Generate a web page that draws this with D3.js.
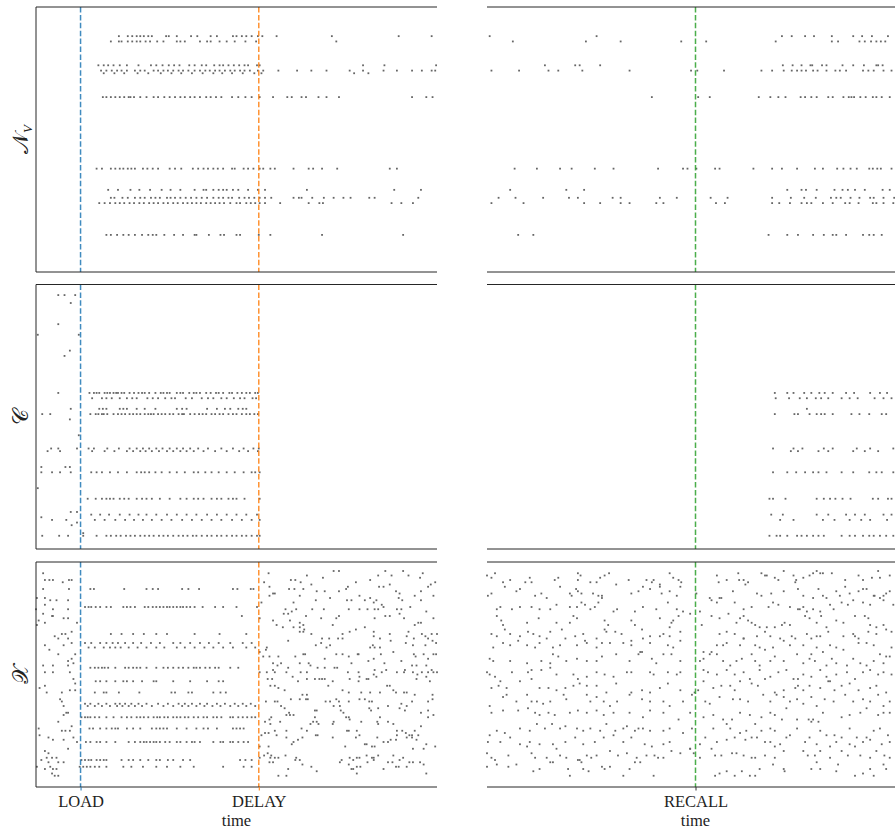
<!DOCTYPE html>
<html>
<head>
<meta charset="UTF-8">
<script src="https://d3js.org/d3.v7.min.js"></script>
<style>
  body { margin: 0; background: #fff; }
  svg text { font-family: "Liberation Serif", "DejaVu Serif", serif; fill: #222; }
</style>
</head>
<body>
<svg id="chart" width="895" height="832"></svg>
<script>
// event times (ms) on each column's time axis
const loadT = 50, delayT = 250, recallT = 234;

// ---- N_V : spike times per neuron [neuron, times]
const nvLeftRows = [
  [11, [93,103,108,113,117,121,126,130,146,149,158,174,181,196,203,221,225,231,236,242,249,254,270,332,407,444]],
  [13, [84,93,96,103,108,113,117,123,128,136,143,158,162,167,184,192,196,206,214,223,235,247,337]],
  [22, [70,76,81,87,94,102,115,129,135,142,149,155,161,172,178,186,191,200,206,210,216,222,228,234,238,248,251,367,391,449]],
  [24, [73,79,85,91,96,102,111,117,122,132,137,143,148,154,160,165,171,178,184,190,195,201,206,212,218,223,229,234,240,249,255,272,293,309,326,352,367,390,405,422,433,444,448]],
  [25, [76,88,99,114,126,140,152,163,175,187,199,209,220,232,245,253,357,373]],
  [34, [75,79,84,89,94,99,104,106,110,117,124,132,137,144,150,156,162,167,173,178,184,191,196,202,208,220,227,235,242,251,266,282,287,298,303,317,326,340,422,438,445]],
  [61, [68,74,84,89,94,98,103,107,111,120,125,131,137,150,156,163,176,182,188,193,199,204,210,220,223,233,238,244,251,255,263,268,289,306,311,321,338,397,405]],
  [69, [81,92,106,116,128,141,151,162,178,188,191,199,205,210,214,221,227,238,249,257,304,402,432]],
  [72, [84,88,97,103,111,117,122,129,134,139,147,151,156,162,168,174,180,186,192,199,205,210,216,220,228,234,239,245,251,257,264,289,295,298,310,323,334,345,353,374,380,429]],
  [74, [71,77,83,89,94,99,105,110,116,121,127,132,137,143,148,154,159,165,170,175,180,185,191,196,201,206,211,218,225,229,236,241,246,251,257,274,306,318,322,399,410,423]],
  [86, [79,84,91,98,104,111,119,126,131,135,144,155,165,178,180,194,207,211,225,229,250,263,321,412]]
];
const nvRightRows = [
  [11, [3,123,331,342,357,367,387,411,421,432,450]],
  [13, [29,111,150,218,246,324,387,394,418,424,431,437,442,447]],
  [22, [65,99,104,127,332,343,353,363,365,376,381,399,411,423,437,439,444]],
  [24, [5,36,69,80,107,160,229,236,266,308,320,333,342,348,353,358,366,371,381,391,396,403,422,428,434,445,454]],
  [34, [185,237,250,305,318,327,335,352,357,364,370,383,388,400,406,409,412,419,425,433,437,443,452]],
  [61, [31,56,82,95,121,142,192,220,225,235,256,261,299,320,331,348,368,377,393,400,408,415,429,433,438,442,454]],
  [69, [26,89,109,337,353,358,370,390,399,405,413,424,444,452]],
  [72, [13,32,63,92,102,141,150,194,213,251,270,320,341,356,369,386,392,397,408,418,430,434,445,457]],
  [74, [5,41,109,127,150,160,190,198,257,267,320,328,340,353,359,364,377,388,402,407,417,433,437,445,456]],
  [86, [35,52,316,337,349,366,378,388,392,403,422,429,434,443]]
];

// ---- C
const cLeftPre = [[25,4],[32,4],[44,4],[39,7],[25,15],[2,19],[48,19],[32,27],[38,25],[25,41],[7,49],[16,49],[39,47],[38,51],[48,57],
  [13,63],[17,62],[25,62],[27,63],[46,62],[6,69],[33,69],[38,69],[6,71],[18,71],[27,71],[39,71],[2,77],[6,88],[18,89],[34,89],[39,86],
  [40,91],[46,86],[46,90],[7,95],[26,95],[36,95],[53,94]];
const cLeftRows = [
  [41, [60,65,68,71,77,80,83,87,90,92,96,99,105,110,115,119,122,127,134,140,143,147,150,158,162,165,172,177,180,184,191,196,202,205,210,217,220,226,231,236,240,246,249]],
  [43, [63,74,79,85,94,102,108,113,125,131,137,145,152,156,168,175,186,193,199,208,214,222,229,234,243,247]],
  [47, [71,75,79,94,98,102,113,122,134,158,164,169,192,203,212,218,227,232,236]],
  [49, [61,67,70,74,76,80,87,92,96,100,105,109,113,117,122,126,129,132,137,141,145,150,154,160,164,166,173,178,183,187,191,197,201,206,210,216,221,225,231,236,240,245,249]],
  [62, [59,65,80,93,105,113,120,127,135,142,150,158,165,173,182,193,208,221,233,244,250]],
  [63, [63,77,88,102,109,117,123,130,138,147,154,162,169,177,188,201,214,228,238,249]],
  [71, [62,68,74,83,92,102,113,118,122,127,134,141,150,158,167,177,182,190,197,205,214,223,233,242,246,251]],
  [81, [58,67,74,79,83,87,94,99,104,113,119,124,130,139,150,162,169,177,182,188,197,203,208,216,221,225,234,251]],
  [87, [62,72,82,94,105,115,124,135,147,158,169,180,192,203,214,225,236,248]],
  [89, [66,77,89,100,110,120,130,141,152,164,175,186,197,208,220,231,242,251]],
  [95, [53,68,79,84,90,95,101,106,111,117,122,127,132,138,143,148,154,160,165,170,176,180,186,192,197,203,208,214,220,225,231,236,242,248,251]]
];
const cRightRows = [
  [41, [323,337,344,356,364,373,379,388,403,412,430,441,449]],
  [43, [324,339,351,359,369,375,383,398,407,416,435,445,454]],
  [47, [359]],
  [49, [323,345,349,362,370,375,379,388,409,418,429,443,448]],
  [62, [321,344,354,378,388,415,430,456]],
  [63, [341,349,372,383,411,424,439]],
  [71, [321,337,347,357,366,372,381,398,411,429,437,443,456]],
  [81, [317,321,335,370,378,385,391,399,408,433,439,450,454]],
  [87, [319,332,370,383,403,413,424,445,454]],
  [89, [329,344,377,390,407,420,430,449]],
  [95, [317,325,329,337,348,353,359,366,372,378,398,407,413,422,429,434,441,448,456]]
];

// ---- X (input population)
const xLeftPre = [[8,5],[10,8],[15,8],[19,8],[30,9],[37,8],[40,8],[8,12],[37,12],[1,16],[10,16],[16,17],[23,17],[36,17],[0,21],[10,19],
  [19,21],[36,21],[8,23],[18,24],[19,24],[31,25],[36,25],[3,26],[10,27],[1,28],[46,27],[29,32],[33,32],[40,31],[21,33],[25,34],[36,34],
  [10,37],[31,37],[40,36],[15,39],[25,41],[44,41],[36,44],[40,43],[8,46],[19,46],[36,46],[42,45],[10,49],[19,49],[38,49],[42,52],[44,54],
  [10,55],[4,56],[38,57],[44,57],[12,58],[29,58],[27,61],[29,62],[31,64],[34,67],[36,67],[31,68],[25,71],[3,74],[4,77],[29,75],[33,75],
  [38,75],[40,73],[14,78],[19,79],[31,79],[42,78],[46,80],[36,83],[10,84],[14,85],[18,87],[6,88],[12,87],[14,89],[23,87],[25,89],[31,89],
  [16,91],[19,92],[23,92],[18,94],[21,95],[25,95],[10,92],[1,91]];
const xLeftRows = [
  [12, [61,65,99,124,131,137,164,171,183,221,226,241,244]],
  [20, [55,59,62,67,72,79,84,98,102,106,111,122,126,131,135,139,143,147,150,154,158,162,165,169,173,178,187,201,210,225,248]],
  [24, [231]],
  [32, [84,96,109,121,135,147,178,206,236]],
  [36, [55,62,72,79,86,92,100,109,118,129,139,154,162,173,184,194,205,218,232,242]],
  [38, [59,66,76,83,89,95,104,114,124,135,144,158,167,178,189,199,210,221,236,246]],
  [47, [61,66,70,74,77,81,89,100,104,109,113,117,124,135,143,148,154,160,165,171,177,180,184,190,195,201,205,218,227]],
  [53, [67,72,79,89,98,102,109,119,132,135,154,173,192,205,210]],
  [58, [66,76,79,93,116,152,156,171,175,199,207,213]],
  [63, [55,61,70,79,89,94,100,107,115,124,137,148,160,167,175,184,192,203,212,223,232,241]],
  [64, [58,66,74,83,91,97,104,111,119,130,143,154,164,171,180,189,198,207,218,227,236,246]],
  [69, [51,55,58,61,66,71,79,87,96,102,107,113,117,121,126,132,136,139,144,148,154,158,162,167,171,177,182,188,192,199,203,208,218,221,227,232,237,242,246]],
  [74, [60,64,72,79,85,89,92,102,109,117,130,135,139,143,147,158,169,180,188,193,203,221,225,229,233]],
  [80, [56,61,68,72,79,89,104,111,117,121,124,128,132,135,139,145,150,158,162,169,175,178,184,199,207,210,218,221,227,233,238]],
  [88, [51,55,59,62,68,72,76,79,96,104,109,117,126,135,139,148,154,165,173,229,235,242]],
  [91, [49,53,57,61,66,71,79,98,107,120,135,147,162,177,210,233,242]]
];
const xLeftPost = [[334,4],[340,4],[392,4],[412,4],[434,5],[261,5],[322,7],[375,8],[384,6],[399,6],[418,6],[431,7],
  [286,8],[291,8],[297,9],[304,6],[256,9],[262,11],[309,10],[350,11],[359,9],[385,11],[390,11],[440,11],[443,10],[448,9],
  [284,12],[290,12],[300,12],[315,13],[324,13],[340,13],[348,12],[397,10],[404,13],[408,14],[432,13],
  [262,15],[266,14],[268,14],[296,15],[330,16],[363,15],[375,16],[382,17],[407,16],[411,17],[425,15],[446,15],
  [253,18],[289,18],[314,17],[349,17],[354,17],[369,17],[379,18],[388,19],[432,17],
  [310,21],[323,21],[351,21],[363,21],[372,21],[380,21],[384,21],[390,20],[405,21],[410,21],[420,20],[438,22],
  [280,21],[287,22],[278,23],[283,23],[292,21],[303,24],[340,24],[337,25],[408,23],[413,25],[397,24],[380,25],[251,25],
  [266,26],[270,28],[285,26],[296,27],[300,28],[320,25],[333,28],[359,30],[369,29],[392,24],[425,28],[429,27],[432,27],[446,25],
  [289,29],[296,29],[301,30],[277,29],[300,31],[296,31],[309,32],[344,32],[352,31],[379,31],[397,32],[416,33],[415,36],[418,31],
  [433,32],[437,33],[444,32],[450,32],
  [321,34],[329,34],[339,34],[344,34],[379,33],[386,34],[398,35],[424,34],[440,34],[445,35],[283,35],[314,37],[320,36],[326,38],
  [330,37],[375,38],[378,37],[380,38],[386,38],[423,37],
  [259,38],[258,39],[251,40],[300,41],[337,41],[344,41],[351,42],[361,41],[362,41],[373,44],[379,43],[387,41],[401,40],
  [424,41],[426,42],[435,41],[446,41],[449,41],[437,37],[449,36],
  [255,42],[262,42],[272,42],[291,42],[302,41],[324,43],[354,45],[391,45],[410,44],[440,43],[414,48],
  [266,45],[275,45],[271,46],[296,45],[306,45],[308,46],[297,49],[304,49],[316,47],[324,47],[335,47],[338,47],[350,49],[362,49],
  [380,48],[388,49],[393,48],[405,49],[413,49],[422,46],[427,46],[423,49],[428,50],[433,49],[440,49],[444,48],[446,49],[438,46],
  [251,49],[259,49],[266,48],[268,49],[281,49],[283,47],[288,51],[260,52],[265,52],[321,52],[318,52],[324,52],[333,53],[352,52],
  [363,51],[362,53],[371,52],[373,52],[379,50],[382,51],[394,55],[397,55],[401,57],[427,52],[438,51],[442,53],[450,49],
  [263,55],[268,55],[272,56],[279,57],[294,53],[304,52],[313,52],[328,55],[344,57],[351,58],[365,58],[375,58],[386,58],[404,58],
  [413,58],[416,58],[425,59],[445,59],
  [299,59],[304,59],[296,61],[303,61],[305,61],[286,61],[258,62],[268,62],[271,62],[325,62],[330,62],[337,61],[340,62],[351,62],
  [363,61],[369,61],[374,62],[377,62],[395,64],[410,63],[422,62],[440,62],[445,61],[275,64],[279,65],[284,67],[281,68],[285,68],
  [289,68],[313,66],[315,66],[334,64],[341,64],[342,66],[345,67],[348,69],[351,69],[352,70],[374,65],[376,66],[384,65],[386,69],
  [408,65],[414,66],[416,64],[432,67],[440,66],[446,68],
  [257,71],[262,70],[264,69],[274,71],[263,72],[268,75],[261,76],[270,77],[281,78],[281,75],[298,74],[304,75],[308,72],[313,69],
  [311,71],[315,71],[317,72],[334,71],[333,72],[349,75],[360,75],[365,71],[383,71],[384,72],[395,71],[401,72],[405,75],[411,75],
  [415,76],[422,78],[425,75],[429,77],[432,73],[440,69],
  [253,77],[257,76],[287,81],[289,80],[294,79],[299,78],[314,77],[316,77],[333,78],[347,82],[351,75],[359,78],[363,77],[369,81],
  [371,81],[377,82],[380,82],[383,78],[390,80],[395,80],[398,79],[404,79],[405,77],[416,78],[419,77],[422,77],[427,79],[435,83],
  [438,81],[448,82],[423,83],
  [251,82],[261,82],[251,87],[256,86],[260,85],[263,87],[264,86],[268,87],[272,87],[266,89],[262,89],[280,86],[291,88],[292,87],
  [296,88],[299,90],[283,92],[309,91],[315,93],[341,89],[343,88],[352,87],[356,88],[360,87],[363,87],[351,90],[356,92],[360,91],
  [364,91],[354,92],[371,86],[377,87],[379,87],[384,86],[372,89],[379,88],[390,92],[395,89],[400,89],[401,86],[404,91],[407,91],
  [408,88],[412,87],[416,91],[419,89],[423,89],[431,89],[435,90],[438,94],[360,94],[272,95],[281,95]];
const xRight = [[0,6],[5,7],[9,5],[18,9],[26,8],[43,9],[48,7],[50,9],[76,8],[80,7],[102,5],[105,6],[102,8],[116,9],[123,9],[127,7],
  [132,6],[137,5],[145,10],[159,8],[179,8],[185,9],[187,8],[194,10],[205,5],[209,7],[215,8],[218,9],[258,6],[260,9],[269,8],[282,5],
  [283,8],[288,8],[290,10],[293,9],[308,5],[312,6],[314,6],[323,7],[327,8],[333,4],[344,6],[346,9],[347,8],[355,7],[362,6],[366,5],
  [370,4],[374,5],[377,5],[387,5],[402,8],[417,6],[422,8],[432,7],[439,4],[441,7],[452,6],
  [1,15],[5,14],[20,11],[33,13],[37,12],[54,15],[61,14],[67,16],[82,11],[93,14],[95,15],[100,12],[102,13],[106,14],[119,14],[125,15],
  [129,15],[162,14],[170,13],[175,11],[183,12],[194,11],[196,14],[205,13],[213,15],[217,11],[235,14],[250,16],[261,16],[276,13],
  [303,14],[308,15],[319,14],[333,13],[349,12],[355,15],[366,16],[372,12],[377,15],[381,16],[392,13],[396,15],[402,11],[407,14],
  [417,13],[422,12],[426,12],[434,15],[445,15],[448,14],[452,13],
  [11,21],[15,20],[28,21],[37,20],[50,20],[59,21],[71,21],[78,19],[93,20],[101,20],[106,18],[110,19],[116,21],[121,20],[125,18],
  [129,16],[142,22],[146,21],[166,22],[175,20],[190,21],[203,18],[213,21],[220,22],[228,23],[239,22],[252,17],[258,18],[263,16],
  [278,18],[288,21],[297,20],[316,20],[321,18],[327,19],[340,20],[349,21],[355,20],[359,22],[366,21],[374,22],[385,19],[389,21],
  [398,18],[405,19],[411,17],[422,18],[430,19],[435,15],[441,16],[445,17],[456,19],
  [11,24],[16,26],[18,28],[45,27],[58,25],[78,27],[93,27],[97,24],[101,25],[132,26],[136,28],[132,30],[162,26],[166,28],[174,30],
  [194,25],[207,27],[209,26],[215,24],[205,29],[241,28],[252,24],[261,25],[271,23],[280,27],[284,25],[288,24],[293,26],[297,27],
  [301,28],[306,29],[314,29],[323,29],[331,28],[334,27],[340,28],[351,21],[357,24],[362,25],[370,27],[375,24],[381,29],[392,26],
  [400,27],[413,24],[424,24],[428,25],[430,28],[437,29],[445,28],[454,31],
  [5,32],[11,33],[20,30],[26,32],[37,33],[46,31],[52,32],[59,33],[67,34],[71,31],[84,30],[88,34],[99,33],[108,32],[110,35],[123,34],
  [134,31],[144,31],[151,32],[162,35],[175,34],[183,33],[194,33],[198,32],[205,33],[217,31],[261,32],[269,31],[278,32],[288,34],
  [303,33],[312,31],[318,33],[329,34],[342,33],[346,34],[359,32],[364,34],[370,33],[374,33],[383,31],[400,33],[411,32],[417,34],
  [428,31],[437,32],[448,30],
  [7,38],[18,36],[26,37],[35,35],[45,37],[54,38],[59,36],[74,38],[82,37],[101,37],[112,36],[123,38],[129,36],[138,36],[153,36],
  [162,37],[172,40],[183,36],[203,37],[209,38],[217,35],[243,40],[252,40],[258,37],[265,37],[269,36],[284,37],[288,34],[301,37],
  [306,38],[312,39],[321,38],[333,35],[340,37],[355,37],[364,41],[370,38],[377,40],[385,37],[392,38],[400,39],[413,33],[417,36],
  [426,36],[434,37],[441,41],[448,42],[454,38],
  [3,43],[7,44],[26,44],[45,45],[61,44],[71,45],[74,41],[80,42],[89,44],[101,43],[112,44],[123,44],[129,42],[145,41],[160,44],
  [170,41],[174,40],[185,43],[190,45],[198,41],[207,41],[217,44],[239,44],[243,43],[250,41],[258,41],[265,44],[273,46],[280,44],
  [286,43],[297,41],[301,44],[306,46],[318,44],[323,42],[333,44],[348,41],[355,45],[362,43],[368,44],[381,46],[387,43],[392,45],
  [404,46],[411,43],[419,45],[426,46],[434,44],[445,45],[452,42],
  [0,49],[3,50],[9,51],[15,53],[28,49],[46,49],[50,48],[61,48],[71,47],[78,50],[97,50],[102,52],[112,51],[123,49],[132,50],[142,51],
  [157,49],[162,49],[183,49],[187,50],[203,49],[213,50],[217,49],[243,48],[248,49],[258,50],[269,48],[278,50],[288,49],[295,52],
  [306,48],[318,51],[327,49],[336,48],[344,52],[349,52],[355,50],[364,51],[374,48],[381,51],[385,53],[392,50],[404,49],[413,52],
  [422,49],[430,48],[439,50],[445,49],[454,50],
  [5,56],[13,55],[22,56],[37,53],[50,52],[59,56],[69,56],[78,57],[88,56],[97,55],[104,54],[112,55],[123,55],[134,58],[145,54],
  [162,58],[174,57],[183,58],[194,56],[203,54],[217,57],[233,58],[237,57],[243,53],[254,56],[263,55],[273,55],[278,57],[284,53],
  [297,54],[304,55],[312,52],[323,58],[333,57],[346,56],[349,55],[355,57],[362,55],[374,56],[383,53],[390,57],[398,55],[407,54],
  [417,57],[430,56],[437,55],[448,58],
  [3,64],[18,60],[22,59],[33,62],[45,59],[50,62],[56,62],[63,63],[71,62],[86,59],[89,61],[112,59],[116,62],[123,60],[131,62],
  [138,64],[146,62],[160,59],[174,61],[183,62],[198,62],[205,64],[220,62],[230,59],[245,62],[250,63],[261,60],[276,61],[284,61],
  [293,62],[310,59],[318,62],[325,59],[333,60],[340,62],[348,61],[355,63],[364,60],[370,64],[379,61],[389,62],[402,59],[411,62],
  [422,61],[430,62],[439,59],[445,64],[452,62],
  [5,67],[18,66],[35,66],[46,65],[54,67],[59,68],[69,67],[76,68],[93,67],[102,66],[112,67],[123,66],[131,68],[142,67],[160,67],
  [175,69],[183,66],[198,67],[215,70],[228,67],[243,69],[254,68],[265,70],[275,70],[284,67],[295,68],[308,69],[318,67],[323,68],
  [331,70],[336,65],[348,70],[361,70],[366,70],[372,71],[377,67],[398,69],[407,68],[419,67],[426,65],[439,68],[445,67],[452,67],
  [3,77],[11,75],[20,76],[37,74],[48,75],[56,72],[65,74],[73,72],[82,74],[88,73],[101,74],[108,75],[116,74],[127,75],[134,72],
  [144,75],[153,74],[157,73],[166,75],[170,74],[175,74],[183,75],[198,75],[205,74],[220,76],[230,74],[245,78],[254,74],[269,72],
  [273,74],[284,76],[291,75],[297,78],[301,72],[308,75],[318,74],[323,75],[340,77],[348,74],[364,71],[374,75],[381,77],[390,77],
  [398,78],[407,74],[415,78],[426,78],[434,75],[441,74],[450,77],
  [1,80],[15,80],[26,78],[37,81],[48,80],[59,81],[74,81],[78,83],[88,80],[99,78],[108,81],[121,80],[131,78],[142,77],[153,80],
  [162,78],[177,81],[185,82],[198,81],[205,80],[228,83],[239,81],[252,83],[258,80],[269,79],[278,78],[290,79],[303,78],[312,80],
  [318,80],[323,82],[329,81],[336,78],[357,80],[362,78],[370,81],[385,82],[392,80],[407,81],[413,82],[422,80],[430,79],[443,81],
  [452,80],
  [0,85],[5,87],[9,88],[24,86],[45,82],[50,85],[54,87],[67,87],[74,89],[82,86],[89,87],[102,88],[106,89],[112,86],[117,87],
  [123,86],[138,84],[147,86],[157,85],[168,87],[179,86],[188,86],[192,87],[198,87],[207,84],[217,85],[228,83],[232,85],[239,87],
  [256,86],[263,86],[275,85],[280,85],[288,86],[297,87],[301,87],[312,86],[323,87],[333,84],[355,84],[360,86],[368,86],[374,84],
  [385,87],[398,84],[405,86],[419,86],[430,87],[437,84],[446,86],[452,87],
  [0,91],[11,90],[24,91],[33,90],[52,93],[59,92],[71,89],[91,92],[93,95],[104,88],[108,92],[114,93],[129,91],[132,92],[138,91],
  [153,95],[160,92],[166,89],[172,89],[187,95],[256,95],[261,94],[269,93],[278,95],[286,93],[295,95],[301,95],[306,92],[321,90],
  [333,92],[334,93],[364,92],[370,89],[374,92],[392,93],[394,90],[413,95],[422,94],[430,92],[434,95],[445,90],[448,92]];

// ---------------------------------------------------------------
const svg = d3.select("#chart");

const xLeft = d3.scaleLinear().domain([0, 450]).range([36, 437]);
const xRightS = d3.scaleLinear().domain([0, 468]).range([487, 904]);

const panelRows = [
  { top: 7, bottom: 272 },
  { top: 284.5, bottom: 549 },
  { top: 562, bottom: 787 }
];

function fromRows(rows) {
  const pts = [];
  rows.forEach(([n, ts]) => ts.forEach(t => pts.push([t, n])));
  return pts;
}

function drawDots(xs, ys, pts) {
  svg.append("g")
    .selectAll("rect")
    .data(pts)
    .join("rect")
    .attr("x", d => xs(d[0]) - 0.9)
    .attr("y", d => ys(d[1]) - 0.9)
    .attr("width", 1.8)
    .attr("height", 1.8)
    .attr("fill", "#666");
}

function drawVLine(xs, ys, t, color) {
  svg.append("line")
    .attr("x1", xs(t)).attr("x2", xs(t))
    .attr("y1", ys.range()[0]).attr("y2", ys.range()[1])
    .attr("stroke", color)
    .attr("stroke-opacity", 0.85)
    .attr("stroke-width", 1.5)
    .attr("stroke-dasharray", "5.5,2.4");
}

function drawFrame(xs, ys, leftSpine) {
  const [x0, x1] = xs.range();
  const [y0, y1] = ys.range();
  const g = svg.append("g").attr("stroke", "#262626").attr("stroke-width", 1);
  g.append("line").attr("x1", x0).attr("x2", x1).attr("y1", y0).attr("y2", y0);
  g.append("line").attr("x1", x0).attr("x2", x1).attr("y1", y1).attr("y2", y1);
  if (leftSpine) g.append("line").attr("x1", x0).attr("x2", x0).attr("y1", y0).attr("y2", y1);
}

const leftData = [
  fromRows(nvLeftRows),
  cLeftPre.concat(fromRows(cLeftRows)),
  xLeftPre.concat(fromRows(xLeftRows), xLeftPost)
];
const rightData = [
  fromRows(nvRightRows),
  fromRows(cRightRows),
  xRight
];

const blue = "#1f77b4", orange = "#ff7f0e", green = "#2ca02c";

panelRows.forEach((p, i) => {
  const ys = d3.scaleLinear().domain([0, 100]).range([p.top, p.bottom]);
  drawDots(xLeft, ys, leftData[i]);
  drawDots(xRightS, ys, rightData[i]);
  drawVLine(xLeft, ys, loadT, blue);
  drawVLine(xLeft, ys, delayT, orange);
  drawVLine(xRightS, ys, recallT, green);
  drawFrame(xLeft, ys, true);
  drawFrame(xRightS, ys, false);
});

// bottom axes with event ticks
const bottomY = panelRows[2].bottom;
const leftAxis = svg.append("g")
  .attr("transform", `translate(0,${bottomY})`)
  .call(d3.axisBottom(xLeft).tickValues([loadT, delayT])
    .tickFormat((d, i) => ["LOAD", "DELAY"][i]).tickSize(3.5).tickPadding(4.5));
const rightAxis = svg.append("g")
  .attr("transform", `translate(0,${bottomY})`)
  .call(d3.axisBottom(xRightS).tickValues([recallT])
    .tickFormat(() => "RECALL").tickSize(3.5).tickPadding(4.5));

[leftAxis, rightAxis].forEach(a => {
  a.select(".domain").remove();
  a.selectAll("text").style("font-size", "16.5px").attr("fill", "#222");
});
leftAxis.selectAll(".tick line").attr("stroke", (d, i) => [blue, orange][i]).attr("stroke-width", 1);
rightAxis.selectAll(".tick line").attr("stroke", "#333").attr("stroke-width", 1);

svg.append("text").attr("x", 236.5).attr("y", 826).attr("text-anchor", "middle")
  .style("font-size", "16.5px").text("time");
svg.append("text").attr("x", 695.5).attr("y", 826).attr("text-anchor", "middle")
  .style("font-size", "16.5px").text("time");

// y labels (rotated)
function yLabel(cy, main, sub) {
  const t = svg.append("text")
    .attr("transform", `translate(28,${cy}) rotate(-90)`)
    .attr("text-anchor", "middle")
    .style("font-size", "22px");
  t.append("tspan").text(main);
  if (sub) t.append("tspan").attr("dy", 4).style("font-size", "13px").style("font-style", "italic").text(sub);
}
yLabel(139.5, "\u{1D4A9}", "V");
yLabel(416.7, "\u{1D49E}");
yLabel(674.5, "\u{1D4B3}");
</script>
</body>
</html>
